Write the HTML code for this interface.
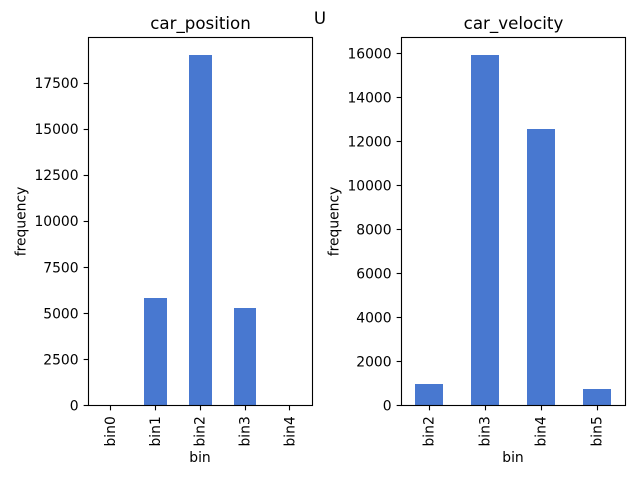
<!DOCTYPE html>
<html>
<head>
<meta charset="utf-8">
<style>
html,body{margin:0;padding:0;background:#fff;}
svg{display:block;}
text{font-family:"DejaVu Sans","Liberation Sans",sans-serif;fill:#000;}
</style>
</head>
<body>
<svg id="fig" xmlns="http://www.w3.org/2000/svg" width="640" height="480" viewBox="0 0 640 480">
<rect x="0" y="0" width="640" height="480" fill="#fff"/>
<text x="320" y="24" font-size="16.67" text-anchor="middle">U</text>
</svg>
<script>
var positionCategories = ['bin0', 'bin1', 'bin2', 'bin3', 'bin4'];
var positionValues = [5, 5830, 19020, 5290, 5];
var positionTicks = [0, 2500, 5000, 7500, 10000, 12500, 15000, 17500];
var velocityCategories = ['bin2', 'bin3', 'bin4', 'bin5'];
var velocityValues = [975, 15930, 12570, 750];
var velocityTicks = [0, 2000, 4000, 6000, 8000, 10000, 12000, 14000, 16000];

var svg = document.getElementById('fig');
var NS = 'http://www.w3.org/2000/svg';

function make(tag, attrs, parent, text) {
  var el = document.createElementNS(NS, tag);
  for (var k in attrs) { el.setAttribute(k, attrs[k]); }
  if (text !== undefined) { el.textContent = text; }
  parent.appendChild(el);
  return el;
}

function snap(p) { return Math.floor(p) + 0.5; }

function drawPanel(prefix, title, categories, values, ticks, left, right, top, bottom) {
  var group = make('g', {}, svg);
  
  

  var yMax = Math.max.apply(null, values) * 1.05;
  var innerLeft = left - 0.2;
  function xScale(i) { return innerLeft + (i + 0.5) * (right - left) / categories.length; }
  function yScale(v) { return bottom - v / yMax * (bottom - top); }
  var barWidth = 0.5 * (right - left) / categories.length;

  values.forEach(function (v, i) {
    var x0 = Math.round(xScale(i) - barWidth / 2);
    var x1 = Math.round(xScale(i) + barWidth / 2);
    var y0 = Math.round(yScale(v));
    var bar = make('rect', {
      x: x0,
      y: y0,
      width: x1 - x0,
      height: bottom - y0,
      fill: '#4878d0',
      'shape-rendering': 'crispEdges'
    }, group);
    
    
  });

  var frame = make('rect', {
    x: left, y: top, width: right - left, height: bottom - top,
    fill: 'none', stroke: '#000', 'stroke-width': 1.11
  }, group);
  
  

  ticks.forEach(function (t) {
    var y = yScale(t);
    var sy = snap(y);
    var mark = make('line', {
      x1: left - 4.86, x2: left, y1: sy, y2: sy,
      stroke: '#000', 'stroke-width': 1.11
    }, group);
    
    
    var label = make('text', {
      x: left - 9.9, y: y + 5, 'font-size': 13.89, 'text-anchor': 'end'
    }, group, String(t));
    
    
  });

  categories.forEach(function (c, i) {
    var x = xScale(i);
    var sx = snap(x);
    var mark = make('line', {
      x1: sx, x2: sx, y1: bottom, y2: bottom + 4.86,
      stroke: '#000', 'stroke-width': 1.11
    }, group);
    
    
    var bx = x + 4.4;
    var by = bottom + 10.7;
    var label = make('text', {
      x: bx, y: by, 'font-size': 13.89, 'text-anchor': 'end',
      transform: 'rotate(-90 ' + bx + ' ' + by + ')'
    }, group, c);
    
    
  });

  var cx = (left + right) / 2;
  var heading = make('text', {
    x: cx, y: top - 8.6, 'font-size': 16.67, 'text-anchor': 'middle'
  }, group, title);
  
  

  var xTitle = make('text', {
    x: cx - 0.5, y: 462, 'font-size': 13.89, 'text-anchor': 'middle'
  }, group, 'bin');
  
  

  var lx = left - 63;
  var ly = (top + bottom) / 2;
  var yTitle = make('text', {
    x: lx, y: ly, 'font-size': 13.89, 'text-anchor': 'middle',
    transform: 'rotate(-90 ' + lx + ' ' + ly + ')'
  }, group, 'frequency');
  
  
}

drawPanel('car-position', 'car_position', positionCategories, positionValues, positionTicks, 88.5, 312.5, 37.5, 405.5);
drawPanel('car-velocity', 'car_velocity', velocityCategories, velocityValues, velocityTicks, 401.5, 625.5, 37.5, 405.5);
</script>
</body>
</html>
